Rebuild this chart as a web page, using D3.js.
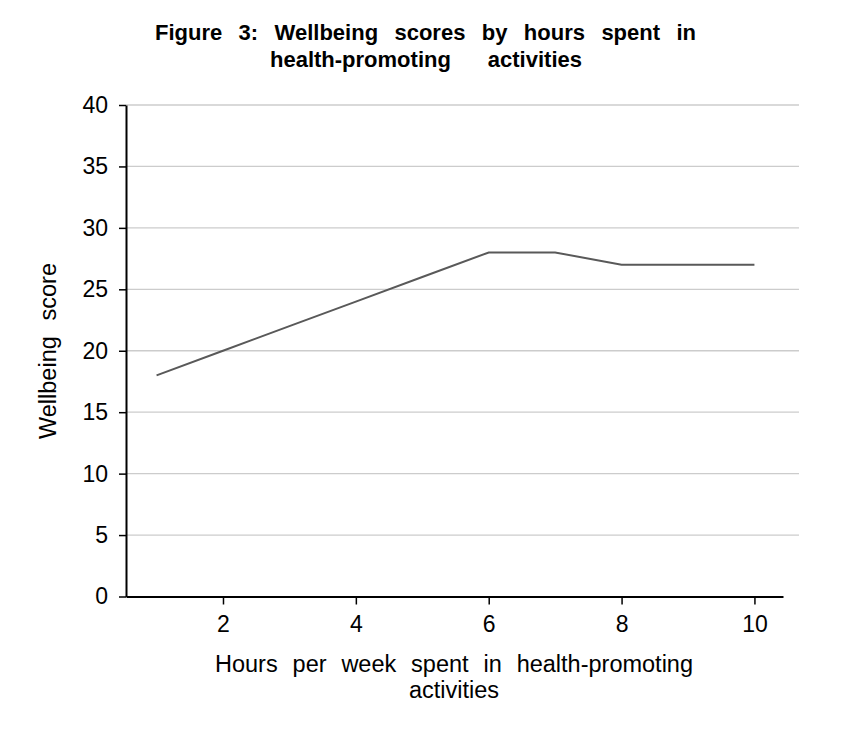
<!DOCTYPE html>
<html><head><meta charset="utf-8">
<script src="https://cdn.jsdelivr.net/npm/d3@7"></script>
<style>
body{margin:0;background:#fff;}
text{font-family:"Liberation Sans",Arial,sans-serif;fill:#000;}
</style></head>
<body><div id="chart"></div>
<script>
const hours = [1,2,3,4,5,6,7,8,9,10];
const scores = [18,20,22,24,26,28,28,27,27,27];
const yTicks = [0,5,10,15,20,25,30,35,40];
const xTicks = [2,4,6,8,10];
const titleLines = ["Figure 3: Wellbeing scores by hours spent in","health-promoting activities"];
const xLabelLines = ["Hours per week spent in health-promoting","activities"];
const yLabel = "Wellbeing score";

const W=854,H=738;
const svg=d3.select("#chart").append("svg").attr("width",W).attr("height",H);
const x=d3.scaleLinear().domain([0.54,10.43]).range([126,783]);
const y=d3.scaleLinear().domain([0,40]).range([596.5,105]);

// gridlines
svg.append("g").selectAll("line").data(yTicks.filter(d=>d>0)).join("line")
  .attr("x1",126).attr("x2",799).attr("y1",d=>y(d)).attr("y2",d=>y(d))
  .attr("stroke","#cccccc").attr("stroke-width",1.3);

// line
svg.append("path").datum(hours.map((h,i)=>[h,scores[i]]))
  .attr("d",d3.line().x(d=>x(d[0])).y(d=>y(d[1])))
  .attr("fill","none").attr("stroke","#595959").attr("stroke-width",2);

// y axis
const ya=svg.append("g").attr("transform","translate(126,0)")
  .call(d3.axisLeft(y).tickValues(yTicks).tickSize(7).tickPadding(11).tickSizeOuter(0));
ya.select(".domain").attr("stroke","#000").attr("stroke-width",2);
ya.selectAll(".tick line").attr("stroke","#000").attr("stroke-width",1.5);
ya.selectAll(".tick text").style("font-size","23px").attr("fill","#000");

// x axis
const xa=svg.append("g").attr("transform","translate(0,596.5)")
  .call(d3.axisBottom(x).tickValues(xTicks).tickSize(8).tickPadding(11).tickSizeOuter(0));
xa.select(".domain").attr("stroke","#000").attr("stroke-width",2);
xa.selectAll(".tick line").attr("stroke","#000").attr("stroke-width",1.5);
xa.selectAll(".tick text").style("font-size","23px").attr("fill","#000");

function justify(t,target){
  const w=t.node().getComputedTextLength();
  const n=(t.text().match(/ /g)||[]).length;
  if(n>0 && target>w) t.attr("word-spacing",(target-w)/n);
}
// title
const t1=svg.append("text").attr("x",155).attr("y",40).style("font-size","22px").style("font-weight","bold").text(titleLines[0]);
justify(t1,541);
const t2=svg.append("text").attr("x",270).attr("y",67).style("font-size","22px").style("font-weight","bold").text(titleLines[1]);
justify(t2,312);

// x label
const xl1=svg.append("text").attr("x",215).attr("y",672).style("font-size","23.5px").text(xLabelLines[0]);
justify(xl1,478);
svg.append("text").attr("x",454).attr("y",698).attr("text-anchor","middle").style("font-size","23.5px").text(xLabelLines[1]);

// y label
const yl=svg.append("text").attr("transform","translate(56,351) rotate(-90)").attr("text-anchor","middle").style("font-size","23.5px").text(yLabel);
justify(yl,176);
</script></body></html>
